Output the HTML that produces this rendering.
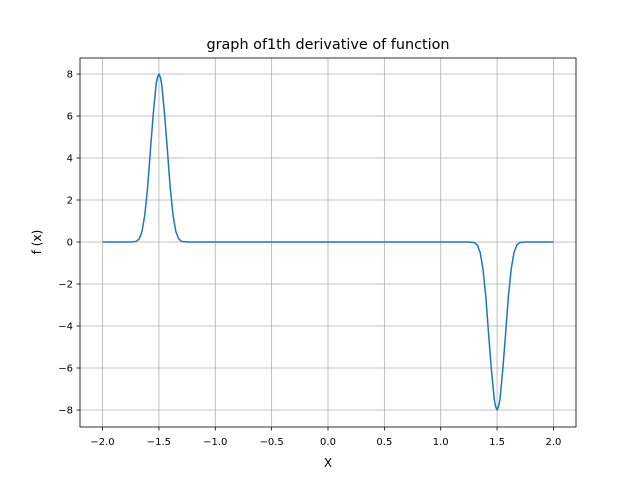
<!DOCTYPE html>
<html><head><meta charset="utf-8"><style>
body{margin:0;background:#fff;}
svg{display:block;font-family:"DejaVu Sans","Liberation Sans",sans-serif;}
</style></head><body>
<svg id="c" width="640" height="480">
<rect width="640" height="480" fill="#fff"/>
<g id="grid"></g>
<g id="series"></g>
<rect x="80" y="58" width="496" height="369" fill="none" stroke="#000" stroke-width="0.8"/>
<g id="ticks"></g>
<text x="328" y="49" text-anchor="middle" font-size="14.4">graph of1th derivative of function</text>
<text x="328" y="467" text-anchor="middle" font-size="12">X</text>
<text transform="translate(41,242) rotate(-90)" text-anchor="middle" font-size="12">f (x)</text>
</svg>
<script>
const xTicks=[-2.0,-1.5,-1.0,-0.5,0.0,0.5,1.0,1.5,2.0];
const xTickLabels=["−2.0","−1.5","−1.0","−0.5","0.0","0.5","1.0","1.5","2.0"];
const yTicks=[-8,-6,-4,-2,0,2,4,6,8];
const yTickLabels=["−8","−6","−4","−2","0","2","4","6","8"];
const xs=[-2.0,-1.75,-1.7,-1.675,-1.65,-1.625,-1.6,-1.575,-1.55,-1.525,-1.5125,-1.5,-1.4875,-1.475,-1.45,-1.425,-1.4,-1.375,-1.35,-1.325,-1.3,-1.25,
 1.25,1.3,1.325,1.35,1.375,1.4,1.425,1.45,1.475,1.4875,1.5,1.5125,1.525,1.55,1.575,1.6,1.625,1.65,1.675,1.7,1.75,2.0];
const ys=[0,0,0.03,0.15,0.5,1.3,2.6,4.4,6.1,7.5,7.85,8.0,7.85,7.5,6.1,4.4,2.6,1.3,0.5,0.15,0.03,0,
 0,-0.03,-0.15,-0.5,-1.3,-2.6,-4.4,-6.1,-7.5,-7.85,-8.0,-7.85,-7.5,-6.1,-4.4,-2.6,-1.3,-0.5,-0.15,-0.03,0,0];
const NS="http://www.w3.org/2000/svg";
const X=v=>80+(v+2.2)/4.4*496;
const Y=v=>242-v*21;
const grid=document.getElementById('grid'),ticks=document.getElementById('ticks'),series=document.getElementById('series');
function mk(tag,attrs,parent){const e=document.createElementNS(NS,tag);for(const k in attrs)e.setAttribute(k,attrs[k]);parent.appendChild(e);return e;}
xTicks.forEach((t,i)=>{
 const g=mk('line',{x1:X(t),x2:X(t),y1:58,y2:427,stroke:'#b0b0b0','stroke-width':0.8},grid);
 
 
 mk('line',{x1:X(t),x2:X(t),y1:427,y2:430.5,stroke:'#000','stroke-width':0.8},ticks);
 const tx=mk('text',{x:X(t),y:445,'text-anchor':'middle','font-size':10},ticks);
 tx.textContent=xTickLabels[i];
 
 
});
yTicks.forEach((t,i)=>{
 const g=mk('line',{x1:80,x2:576,y1:Y(t),y2:Y(t),stroke:'#b0b0b0','stroke-width':0.8},grid);
 
 
 mk('line',{x1:76.5,x2:80,y1:Y(t),y2:Y(t),stroke:'#000','stroke-width':0.8},ticks);
 const tx=mk('text',{x:73,y:Y(t)+3.5,'text-anchor':'end','font-size':10},ticks);
 tx.textContent=yTickLabels[i];
 
 
});
const p=mk('path',{d:xs.map((x,i)=>(i?'L':'M')+X(x).toFixed(2)+','+Y(ys[i]).toFixed(2)).join(''),fill:'none',stroke:'#1f77b4','stroke-width':1.5,'stroke-linejoin':'round'},series);


</script>
</body></html>
